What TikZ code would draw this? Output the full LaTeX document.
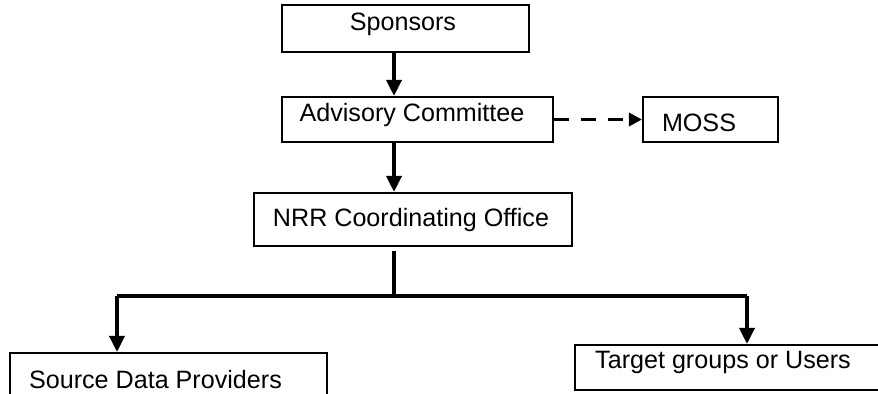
\documentclass[tikz,border=0pt]{standalone}
\usepackage{fontspec}
\setmainfont{Liberation Sans}
\usetikzlibrary{arrows.meta}

\tikzset{
	box/.style={draw=black, line width=1.2pt, inner sep=0pt},
	txt/.style={font=\fontsize{14.3pt}{16pt}\selectfont, inner sep=0pt},
	arr/.style={line width=2pt, -{Triangle[length=0.32cm,width=0.3cm]}},
	link/.style={line width=2.4pt},
	dasharr/.style={line width=2pt, dash pattern=on 0.3cm off 0.24cm, -{Triangle[length=0.26cm,width=0.26cm]}}
}

\begin{document}
\begin{tikzpicture}[x=0.02cm, y=-0.02cm]
	\useasboundingbox (0,0) rectangle (878,394);
	
	\node[box, minimum width=4.94cm, minimum height=0.94cm] (spon) at (405.5, 28.5) {};
	\node[box, minimum width=5.42cm, minimum height=0.9cm] (adv) at (417.5, 119.5) {};
	\node[box, minimum width=2.7cm, minimum height=0.9cm] (moss) at (710.5, 119.5) {};
	\node[box, minimum width=6.36cm, minimum height=1.06cm] (nrr) at (413, 219.5) {};
	\node[box, minimum width=6.34cm, minimum height=1.2cm] (src) at (168.5, 383) {};
	\node[box, minimum width=6.1cm, minimum height=0.9cm] (tgt) at (727.5, 367.5) {};
	
	\node[txt] (sponT) at (403, 24) {Sponsors};
	\node[txt] (advT) at (412, 115) {Advisory Committee};
	\node[txt] (mossT) at (699, 123) {MOSS};
	\node[txt] (nrrT) at (411, 220) {NRR Coordinating Office};
	\node[txt] (srcT) at (155.5, 380) {Source Data Providers};
	\node[txt] (tgtT) at (723, 362) {Target groups or Users};
	
	\coordinate (axis) at (394, 0);
	\coordinate (bus) at (394, 296);
	\coordinate (busL) at (117, 296);
	\coordinate (busR) at (747, 296);
	
	\draw[arr] (spon.south -| axis) -- (adv.north -| axis);
	\draw[arr] (adv.south -| axis) -- (nrr.north -| axis);
	\draw[dasharr] (adv.east |- moss.center) -- (moss.west);
	\draw[link] ([yshift=-0.08cm]nrr.south -| axis) -- (bus);
	\draw[link] (busL) -- (busR);
	\draw[arr] (busL) -- (busL |- src.north);
	\draw[arr] (busR) -- (busR |- tgt.north);
\end{tikzpicture}
\end{document}
